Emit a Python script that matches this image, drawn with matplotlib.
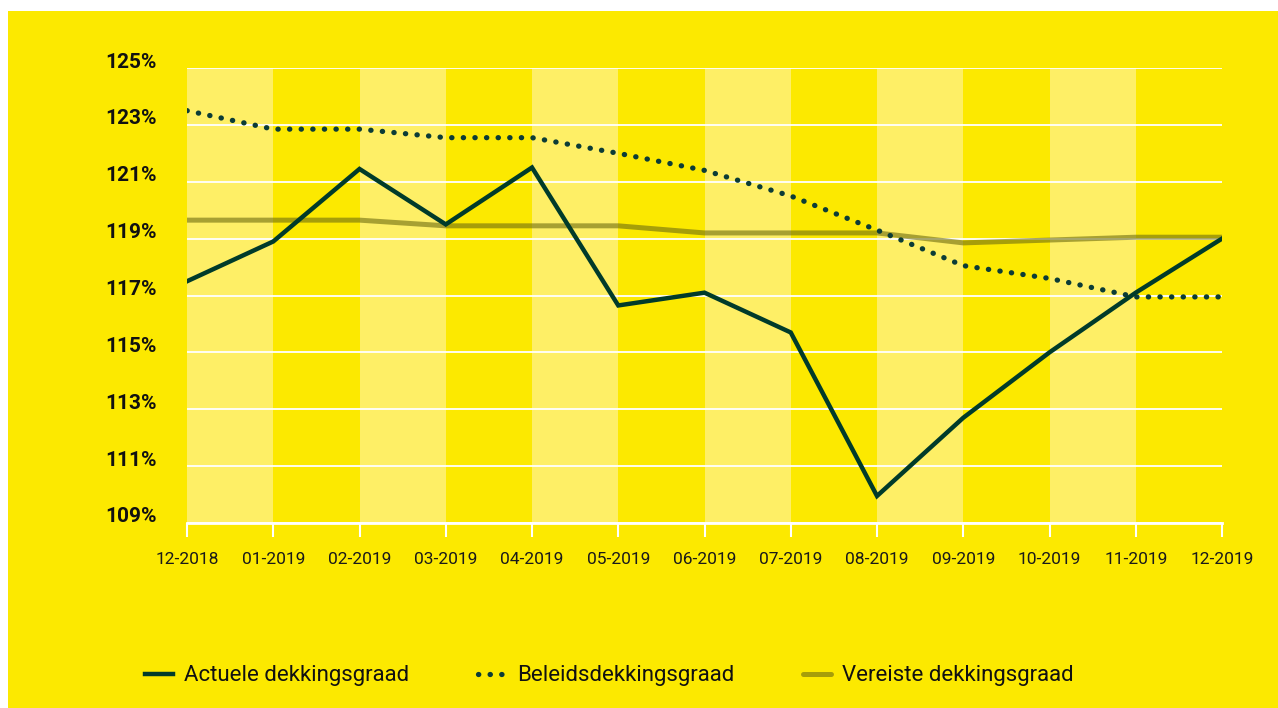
import numpy as np
import matplotlib
matplotlib.use('Agg')
import matplotlib.pyplot as plt
from matplotlib.patches import Rectangle
from matplotlib.transforms import ScaledTranslation

plt.rcParams['font.family'] = ['Roboto', 'DejaVu Sans']

months = ['12-2018', '01-2019', '02-2019', '03-2019', '04-2019', '05-2019', '06-2019',
          '07-2019', '08-2019', '09-2019', '10-2019', '11-2019', '12-2019']
actuele = [117.5, 118.9, 121.45, 119.5, 121.5, 116.65, 117.1, 115.7, 109.95, 112.7, 115.0, 117.1, 119.0]
beleids = [123.5, 122.85, 122.85, 122.55, 122.55, 122.0, 121.4, 120.5, 119.3, 118.05, 117.6, 116.95, 116.95]
vereiste = [119.65, 119.65, 119.65, 119.45, 119.45, 119.45, 119.2, 119.2, 119.2, 118.85, 118.95, 119.05, 119.05]
yticks = [109, 111, 113, 115, 117, 119, 121, 123, 125]

yellow = '#FCE900'
light = '#FEEF66'
dark = '#003B2A'
dotc = '#0B3C36'
olive = '#6E6C10'

fig = plt.figure(figsize=(12.78, 7.08), dpi=100)
fig.patch.set_facecolor('white')
# yellow panel, white strip at top and left
fig.patches.append(Rectangle((8 / 1278, 0), 1, 1 - 11 / 708, transform=fig.transFigure,
                             facecolor=yellow, edgecolor='none', zorder=-10))

ax = fig.add_axes([187 / 1278, 1 - 523 / 708, (1222 - 187) / 1278, (523 - 68) / 708])
ax.set_facecolor(yellow)

x = np.arange(len(months))
for i in range(0, len(months) - 1, 2):
    ax.axvspan(i, i + 1, color=light, lw=0, zorder=0)

ax.plot(x, vereiste, color=olive, lw=3.6, alpha=0.6, solid_capstyle='round', zorder=3,
        label='Vereiste dekkingsgraad')
ax.plot(x, beleids, color=dotc, lw=3.8, linestyle=(0, (0.05, 2.15)), dash_capstyle='round',
        zorder=4, label='Beleidsdekkingsgraad')
ax.plot(x, actuele, color=dark, lw=3.2, solid_joinstyle='miter', zorder=5,
        label='Actuele dekkingsgraad')

ax.set_xlim(0, len(months) - 1)
ax.set_ylim(109, 125)
ax.set_xticks(x)
ax.set_xticklabels(months)
ax.set_yticks(yticks)
ax.set_yticklabels([f'{v}%' for v in yticks], fontweight='bold')

ax.grid(axis='y', color='white', lw=1.3, zorder=1)
ax.set_axisbelow(False)
for s in ['top', 'right', 'left']:
    ax.spines[s].set_visible(False)
ax.spines['bottom'].set_color('white')
ax.spines['bottom'].set_linewidth(2)
ax.spines['bottom'].set_zorder(2)

ax.tick_params(axis='x', colors='white', length=10, width=1.5, pad=11, labelcolor='#1a1a1a',
               labelsize=12.5)
ax.tick_params(axis='y', length=0, pad=22, labelcolor='#111111', labelsize=15)

# y labels sit a little above their gridlines
shift = ScaledTranslation(0, 8 / 100, fig.dpi_scale_trans)
for lab in ax.get_yticklabels():
    lab.set_transform(lab.get_transform() + shift)

h, l = ax.get_legend_handles_labels()
order = [2, 1, 0]
leg = fig.legend([h[i] for i in order], [l[i] for i in order], loc='center left',
                 bbox_to_anchor=(145 / 1278, 1 - 676 / 708), ncol=3, frameon=False,
                 fontsize=16, handlelength=1.25, handletextpad=0.5, columnspacing=3.1,
                 borderpad=0, borderaxespad=0)
for t in leg.get_texts():
    t.set_color('#111111')

fig.savefig('out.png', dpi=100, facecolor=fig.get_facecolor())
